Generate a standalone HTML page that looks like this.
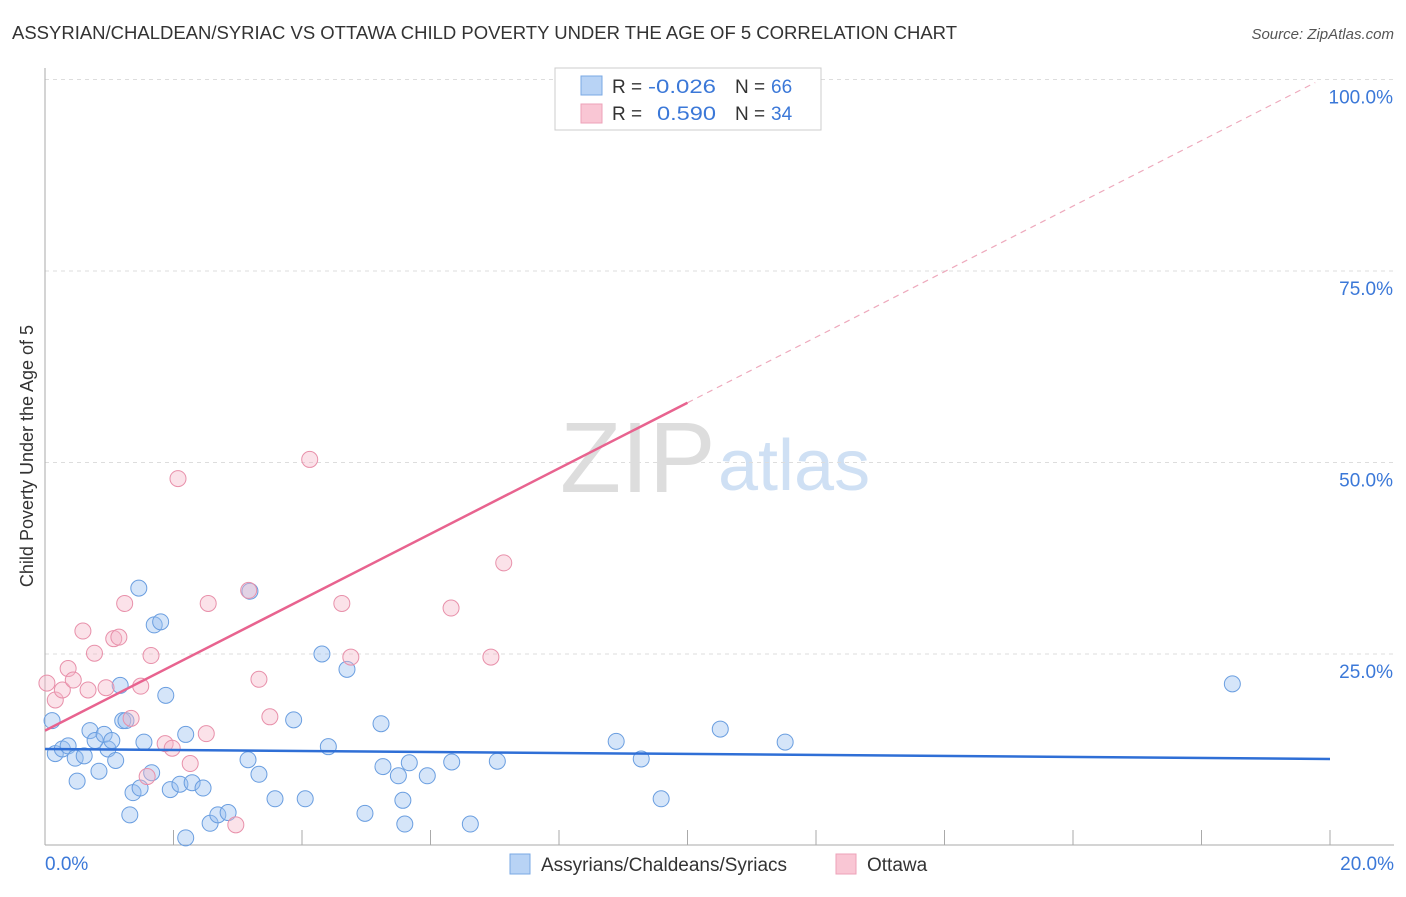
<!DOCTYPE html>
<html><head><meta charset="utf-8">
<style>
body{margin:0;background:#fff;font-family:"Liberation Sans",sans-serif;}
svg text{font-family:"Liberation Sans",sans-serif;}
</style></head>
<body>
<svg id="chart" width="1406" height="892" xmlns="http://www.w3.org/2000/svg">
<text x="12" y="39" font-size="18" fill="#333" textLength="945" lengthAdjust="spacingAndGlyphs">ASSYRIAN/CHALDEAN/SYRIAC VS OTTAWA CHILD POVERTY UNDER THE AGE OF 5 CORRELATION CHART</text>
<text x="1394" y="39" font-size="15" fill="#555" font-style="italic" text-anchor="end">Source: ZipAtlas.com</text>
<text x="0" y="0" transform="translate(33,456) rotate(-90)" font-size="18" fill="#333" text-anchor="middle">Child Poverty Under the Age of 5</text>
<text x="560" y="492" font-size="100" fill="#ddd" font-family="Liberation Serif">ZIP</text>
<text x="718" y="490" font-size="72" fill="#cfe0f4">atlas</text>
<g id="grid"></g>
<g id="axes"></g>
<g id="pts"></g>
<g id="lines"></g>
<g>
<rect x="555" y="68" width="266" height="62" fill="#fff" stroke="#ccc"/>
<rect x="581" y="76" width="21" height="19" fill="#b8d3f5" stroke="#7aa8e4"/>
<rect x="581" y="104" width="21" height="19" fill="#f9c6d4" stroke="#eda2b8"/>
<text x="612" y="93" font-size="19" fill="#333">R =</text>
<text x="648" y="93" font-size="19" fill="#3b78d8" textLength="68" lengthAdjust="spacingAndGlyphs">-0.026</text>
<text x="735" y="93" font-size="19" fill="#333">N =</text>
<text x="771" y="93" font-size="19" fill="#3b78d8">66</text>
<text x="612" y="120" font-size="19" fill="#333">R =</text>
<text x="657" y="120" font-size="19" fill="#3b78d8" textLength="59" lengthAdjust="spacingAndGlyphs">0.590</text>
<text x="735" y="120" font-size="19" fill="#333">N =</text>
<text x="771" y="120" font-size="19" fill="#3b78d8">34</text>
</g>
<g>
<rect x="510" y="854" width="20" height="20" fill="#b8d3f5" stroke="#7aa8e4"/>
<text x="541" y="871" font-size="19" fill="#333">Assyrians/Chaldeans/Syriacs</text>
<rect x="836" y="854" width="20" height="20" fill="#f9c6d4" stroke="#eda2b8"/>
<text x="867" y="871" font-size="19" fill="#333">Ottawa</text>
</g>
</svg>
<script>
const blueX=[0.11,0.16,0.27,0.36,0.47,0.5,0.61,0.7,0.78,0.84,0.92,0.98,1.04,1.1,1.17,1.21,1.26,1.32,1.37,1.46,1.48,1.54,1.66,1.7,1.8,1.88,1.95,2.1,2.19,2.19,2.29,2.46,2.57,2.69,2.85,3.16,3.19,3.33,3.58,3.87,4.05,4.31,4.41,4.7,4.98,5.23,5.26,5.5,5.57,5.6,5.67,5.95,6.33,6.62,7.04,8.89,9.28,9.59,10.51,11.52,18.48];
const blueY=[16.3,12,12.6,13,11.4,8.4,11.7,15,13.7,9.7,14.5,12.6,13.7,11.1,20.9,16.3,16.3,4,6.9,33.6,7.5,13.5,9.5,28.8,29.2,19.6,7.3,8,14.5,1,8.2,7.5,2.9,4,4.3,11.2,33.2,9.3,6.1,16.4,6.1,25,12.9,23,4.2,15.9,10.3,9.1,5.9,2.8,10.8,9.1,10.9,2.8,11,13.6,11.3,6.1,15.2,13.5,21.1];
const pinkX=[0.03,0.16,0.27,0.36,0.44,0.59,0.67,0.77,0.95,1.07,1.15,1.24,1.34,1.49,1.59,1.65,1.87,1.98,2.07,2.26,2.51,2.54,2.97,3.17,3.33,3.5,4.12,4.62,4.76,6.32,6.94,7.14,9.35];
const pinkY=[21.2,19,20.3,23.1,21.6,28,20.3,25.1,20.6,27,27.2,31.6,16.6,20.8,9,24.8,13.3,12.7,47.9,10.7,14.6,31.6,2.7,33.3,21.7,16.8,50.4,31.6,24.6,31,24.6,36.9,100];
const xTicks=[0,20];const yTicks=[25,50,75,100];
const X=v=>45+v/20*1285, Y=v=>845.5-v/100*766;
const NS="http://www.w3.org/2000/svg";
function mk(tag,attrs,parent){const e=document.createElementNS(NS,tag);for(const k in attrs)e.setAttribute(k,attrs[k]);parent.appendChild(e);return e;}
const grid=document.getElementById('grid'),axes=document.getElementById('axes'),pts=document.getElementById('pts'),lines=document.getElementById('lines');
yTicks.forEach(t=>{const l=mk('line',{x1:45,x2:1394,y1:Y(t),y2:Y(t),stroke:'#ddd','stroke-dasharray':'4,4'},grid);


const tx=mk('text',{x:1393,y:Y(t)+24,'font-size':19,fill:'#3b78d8','text-anchor':'end'},axes);tx.textContent=t.toFixed(1)+'%';

});
const ya=mk('line',{x1:45,x2:45,y1:68,y2:845,stroke:'#aaa'},axes);


const xa=mk('line',{x1:45,x2:1394,y1:845,y2:845,stroke:'#aaa'},axes);


for(let i=0;i<=20;i+=2){const tk=mk('line',{x1:X(i),x2:X(i),y1:845,y2:830,stroke:'#aaa'},axes);

}
xTicks.forEach((t,i)=>{const tx=mk('text',{x:i?1394:45,y:870,'font-size':19,fill:'#3b78d8','text-anchor':i?'end':'start'},axes);tx.textContent=t.toFixed(1)+'%';

});
blueX.forEach((v,i)=>{const c=mk('circle',{cx:X(v),cy:Y(blueY[i]),r:8,fill:'rgba(150,190,240,0.4)',stroke:'#6a9ee0','stroke-width':1},pts);

});
pinkX.forEach((v,i)=>{const c=mk('circle',{cx:X(v),cy:Y(pinkY[i]),r:8,fill:'rgba(244,182,200,0.4)',stroke:'#e890aa','stroke-width':1},pts);

});
const bl=mk('line',{x1:X(0),y1:Y(12.6),x2:X(20),y2:Y(11.3),stroke:'#2f6fd6','stroke-width':2.5},lines);


const pl=mk('line',{x1:X(0),y1:Y(15),x2:X(10),y2:Y(57.8),stroke:'#e8638f','stroke-width':2.5},lines);


const pd=mk('line',{x1:X(10),y1:Y(57.8),x2:X(19.77),y2:Y(99.6),stroke:'#eeaabd','stroke-width':1.2,'stroke-dasharray':'6,5'},lines);


</script>
</body></html>
